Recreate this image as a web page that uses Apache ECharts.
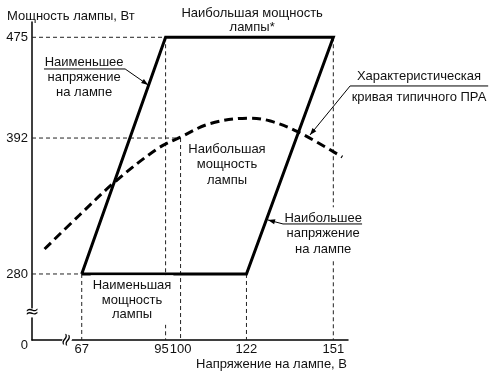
<!DOCTYPE html>
<html><head><meta charset="utf-8">
<script src="https://cdn.jsdelivr.net/npm/echarts@6/dist/echarts.min.js"></script>
<style>html,body{margin:0;padding:0;background:#fff}#c{width:497px;height:376px}</style>
</head><body><div id="c"></div>
<script>
// ---- data ----
const xTicks = [67, 95, 100, 122, 151];
const yTicks = [280, 392, 475];
const originLabel = '0';
const regionX = [67, 95, 151, 122, 67];
const regionY = [280, 475, 475, 280, 280];
const curveX = [54.6, 66.3, 78.0, 92.1, 100, 110, 123, 130, 139.3, 154];
const curveY = [300.6, 328.6, 355.7, 382.9, 392.8, 404, 408.4, 406, 397, 376.3];
const refVertX = [67, 95, 100, 122, 151];
const refVertTop = [280, 475, 392, 280, 475];
const refHorizY = [475, 392, 280];
const refHorizEnd = [95, 100, 67];
const xTitle = 'Напряжение на лампе, В';
const yTitle = 'Мощность лампы, Вт';
const noteTexts = [
  ['Наибольшая мощность', 'лампы*'],
  ['Наименьшее', 'напряжение', 'на лампе'],
  ['Наибольшая', 'мощность', 'лампы'],
  ['Характеристическая'],
  ['кривая типичного ПРА'],
  ['Наибольшее', 'напряжение', 'на лампе'],
  ['Наименьшая', 'мощность', 'лампы']
];

// ---- layout ----
const xMin = 50.4, xMax = 155.9, yMin = 225.6, yMax = 487.6;
const FONT = '"Liberation Sans", Arial, sans-serif';
const noteLayout = [
  {at: [123.9, 489.3], lh: 14, bg: false},
  {at: [67.8, 442.3], lh: 15, bg: false},
  {at: [115.5, 370.2], lh: 15.5, bg: false},
  {at: [179.6, 443.1], lh: 15, bg: false},
  {at: [179.6, 425.8], lh: 15, bg: false},
  {at: [147.6, 313.4], lh: 15.5, bg: true},
  {at: [83.8, 258.6], lh: 14.5, bg: true}
];
const leaders = [
  [[54.4, 448.9], [81.5, 448.9], [89.2, 435.7]],
  [[202.7, 434.9], [156.6, 434.9], [143.2, 394.5]],
  [[160.6, 321.2], [134.2, 321.2], [129.2, 324.5]]
];
const yBreakAt = [xMin, 247.9];
const xBreakAt = [62.1, yMin];

const chart = echarts.init(document.getElementById('c'), null, {renderer: 'canvas'});
const dashStyle = {color: '#222', width: 1, type: [4, 3]};
const series = [];
refVertX.forEach((x, i) => series.push({
  type: 'line', data: [[x, refVertTop[i]], [x, yMin]], symbol: 'none', silent: true,
  lineStyle: dashStyle, z: 1
}));
refHorizY.forEach((y, i) => series.push({
  type: 'line', data: [[xMin, y], [refHorizEnd[i], y]], symbol: 'none', silent: true,
  lineStyle: dashStyle, z: 1
}));
series.push({
  type: 'line', data: regionX.map((x, i) => [x, regionY[i]]), symbol: 'none', silent: true,
  lineStyle: {color: '#000', width: 3, join: 'miter'}, z: 3
});
series.push({
  type: 'line', data: curveX.map((x, i) => [x, curveY[i]]), symbol: 'none', silent: true,
  smooth: 0.35, lineStyle: {color: '#000', width: 3, type: [9, 5]}, z: 3
});

chart.setOption({
  animation: false,
  backgroundColor: '#fff',
  title: {text: yTitle, left: 2, top: 5, textStyle: {fontSize: 13, fontWeight: 'normal', color: '#111', fontFamily: FONT}},
  grid: {left: 32, right: 149, top: 22, bottom: 36, outerBoundsMode: 'none', containLabel: false},
  xAxis: {
    type: 'value', min: xMin, max: xMax,
    name: xTitle, nameLocation: 'end', nameGap: -1,
    nameTextStyle: {fontSize: 13, color: '#111', fontFamily: FONT, align: 'right', verticalAlign: 'top', padding: [18, 0, 0, 0]},
    axisLine: {show: true, lineStyle: {color: '#000', width: 1.5}},
    axisTick: {show: false}, splitLine: {show: false},
    axisLabel: {
      customValues: xTicks, margin: 3, fontSize: 13, color: '#111', fontFamily: FONT,
      formatter: v => v === 95 ? '{a|95}' : String(v),
      rich: {a: {fontSize: 13, color: '#111', fontFamily: FONT, padding: [0, 8, 0, 0]}}
    }
  },
  yAxis: {
    type: 'value', min: yMin, max: yMax,
    axisLine: {show: true, lineStyle: {color: '#000', width: 1.5}},
    axisTick: {show: false}, splitLine: {show: false},
    axisLabel: {
      customValues: [yMin].concat(yTicks), margin: 4, fontSize: 13, color: '#111', fontFamily: FONT,
      formatter: v => v === yMin ? '{z|' + originLabel + '}' : String(v),
      rich: {z: {fontSize: 13, color: '#111', fontFamily: FONT, padding: [10, 0, 0, 0]}}
    }
  },
  series: series
});

// annotations
const px = p => chart.convertToPixel({gridIndex: 0}, p);
const graphics = [];
noteTexts.forEach((lines, i) => {
  const L = noteLayout[i];
  const p = px(L.at);
  const st = {
    text: lines.join('\n'), x: p[0], y: p[1], align: 'center', verticalAlign: 'middle',
    fontSize: 13, fontFamily: FONT, lineHeight: L.lh, fill: '#111'
  };
  if (L.bg) { st.backgroundColor = '#fff'; st.padding = [3, 2]; }
  graphics.push({type: 'text', z: 100, silent: true, style: st});
});
leaders.forEach(pts => {
  const pp = pts.map(px);
  graphics.push({type: 'polyline', z: 100, silent: true, shape: {points: pp},
    style: {stroke: '#000', lineWidth: 1, fill: null}});
  const a = pp[pp.length - 1], b = pp[pp.length - 2];
  const dx = a[0] - b[0], dy = a[1] - b[1], len = Math.hypot(dx, dy);
  const ux = dx / len, uy = dy / len, al = 7, aw = 2.5;
  const bx = a[0] - ux * al, by = a[1] - uy * al;
  graphics.push({type: 'polygon', z: 101, silent: true,
    shape: {points: [a, [bx - uy * aw, by + ux * aw], [bx + uy * aw, by - ux * aw]]},
    style: {fill: '#000'}});
});
const yb = px(yBreakAt), xb = px(xBreakAt);
graphics.push({type: 'text', z: 100, silent: true,
  style: {text: '≈', x: yb[0], y: yb[1], align: 'center', verticalAlign: 'middle', fontSize: 17,
    fontFamily: 'DejaVu Sans', fill: '#000', backgroundColor: '#fff', lineHeight: 9, padding: 0}});
graphics.push({type: 'text', z: 100, silent: true, x: xb[0], y: xb[1], rotation: 1.22,
  style: {text: '≈', x: 0, y: 0, align: 'center', verticalAlign: 'middle', fontSize: 17,
    fontFamily: 'DejaVu Sans', fill: '#000', backgroundColor: '#fff', lineHeight: 9, padding: 0}});
chart.setOption({graphic: graphics});
</script>
</body></html>
